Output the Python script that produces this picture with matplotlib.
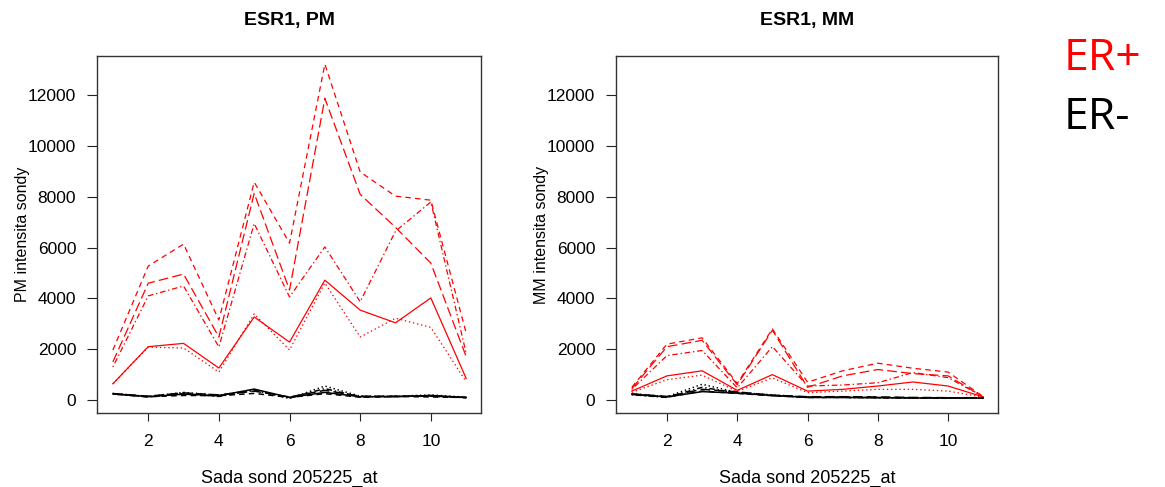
import numpy as np
import matplotlib
matplotlib.use("Agg")
import matplotlib.pyplot as plt

plt.rcParams['font.family'] = ['Liberation Sans', 'DejaVu Sans']
plt.rcParams['lines.scale_dashes'] = False

probes = np.arange(1, 12)

# ER+ samples (red), PM intensities
pm_pos = [
    [640, 2100, 2230, 1260, 3270, 2280, 4720, 3540, 3040, 4020, 850],
    [1970, 5275, 6140, 3150, 8580, 6180, 13230, 8980, 8030, 7870, 2640],
    [640, 2080, 2050, 1100, 3390, 1970, 4610, 2480, 3220, 2860, 720],
    [1300, 4100, 4490, 2090, 6950, 4060, 6030, 3870, 6650, 7800, 1840],
    [1500, 4600, 4960, 2480, 8140, 4330, 11880, 8100, 6800, 5390, 1710],
]
# ER- samples (black), PM intensities
pm_neg = [
    [250, 130, 230, 170, 430, 100, 300, 130, 130, 180, 100],
    [240, 130, 180, 170, 260, 100, 250, 110, 140, 120, 100],
    [260, 140, 300, 190, 400, 60, 550, 150, 150, 200, 110],
    [230, 120, 250, 140, 380, 80, 450, 120, 140, 160, 90],
    [250, 150, 280, 200, 350, 120, 380, 150, 150, 150, 100],
]
# ER+ samples, MM intensities
mm_pos = [
    [350, 950, 1150, 380, 1000, 350, 420, 550, 710, 550, 120],
    [500, 2200, 2450, 650, 2800, 700, 1150, 1450, 1250, 1100, 130],
    [300, 800, 980, 340, 870, 290, 350, 420, 420, 350, 110],
    [420, 1750, 1950, 480, 2100, 550, 590, 680, 1080, 880, 130],
    [450, 2100, 2350, 600, 2750, 500, 950, 1200, 1040, 950, 120],
]
# ER- samples, MM intensities
mm_neg = [
    [230, 120, 330, 270, 180, 100, 100, 90, 80, 80, 80],
    [220, 110, 350, 260, 170, 110, 110, 100, 90, 80, 70],
    [250, 130, 620, 300, 200, 120, 100, 90, 80, 80, 80],
    [210, 100, 500, 280, 170, 100, 100, 90, 80, 80, 70],
    [240, 140, 420, 320, 190, 130, 130, 120, 100, 90, 80],
]

# R lty 1..5: solid, dashed, dotted, dotdash, longdash
styles = ['-', (0, (4, 3)), (0, (1, 2)), (0, (1, 2, 4, 2)), (0, (7, 3))]

fig = plt.figure(figsize=(11.65, 4.87), dpi=100)
ax1 = fig.add_axes([97 / 1165, 74 / 487, 384 / 1165, 357 / 487])
ax2 = fig.add_axes([616 / 1165, 74 / 487, 382 / 1165, 357 / 487])


def draw_panel(ax, pos, neg, title, ylabel):
    for i, s in enumerate(pos):
        ax.plot(probes, s, color='red', lw=0.9, linestyle=styles[i % 5])
    for i, s in enumerate(neg):
        ax.plot(probes, s, color='black', lw=1.1, linestyle=styles[i % 5])
    ax.set_xlim(0.55, 11.42)
    ax.set_ylim(-512, 13549)
    ax.set_xticks([2, 4, 6, 8, 10])
    ax.set_yticks(np.arange(0, 12001, 2000))
    ax.tick_params(axis='y', length=7, pad=8, labelsize=12.5, color='#222222')
    ax.tick_params(axis='x', length=6, pad=9, labelsize=12.5, color='#222222')
    for sp in ax.spines.values():
        sp.set_color('#333333')
        sp.set_linewidth(1.0)
    ax.set_title(title, fontsize=14, fontweight='bold', pad=22)
    ax.set_xlabel("Sada sond 205225_at", fontsize=13)
    ax.xaxis.set_label_coords(0.5, -0.158)
    ax.set_ylabel(ylabel, fontsize=11.5)
    ax.yaxis.set_label_coords(-0.175, 0.5)


draw_panel(ax1, pm_pos, pm_neg, "ESR1, PM", "PM intensita sondy")
draw_panel(ax2, mm_pos, mm_neg, "ESR1, MM", "MM intensita sondy")

fig.text(1064 / 1165, 1 - 70 / 487, "ER+", color='red', fontsize=32,
         family=['Open Sans', 'DejaVu Sans'], va='baseline', ha='left')
fig.text(1064 / 1165, 1 - 129 / 487, "ER-", color='black', fontsize=32,
         family=['Open Sans', 'DejaVu Sans'], va='baseline', ha='left')

fig.savefig("out.png", dpi=100)
